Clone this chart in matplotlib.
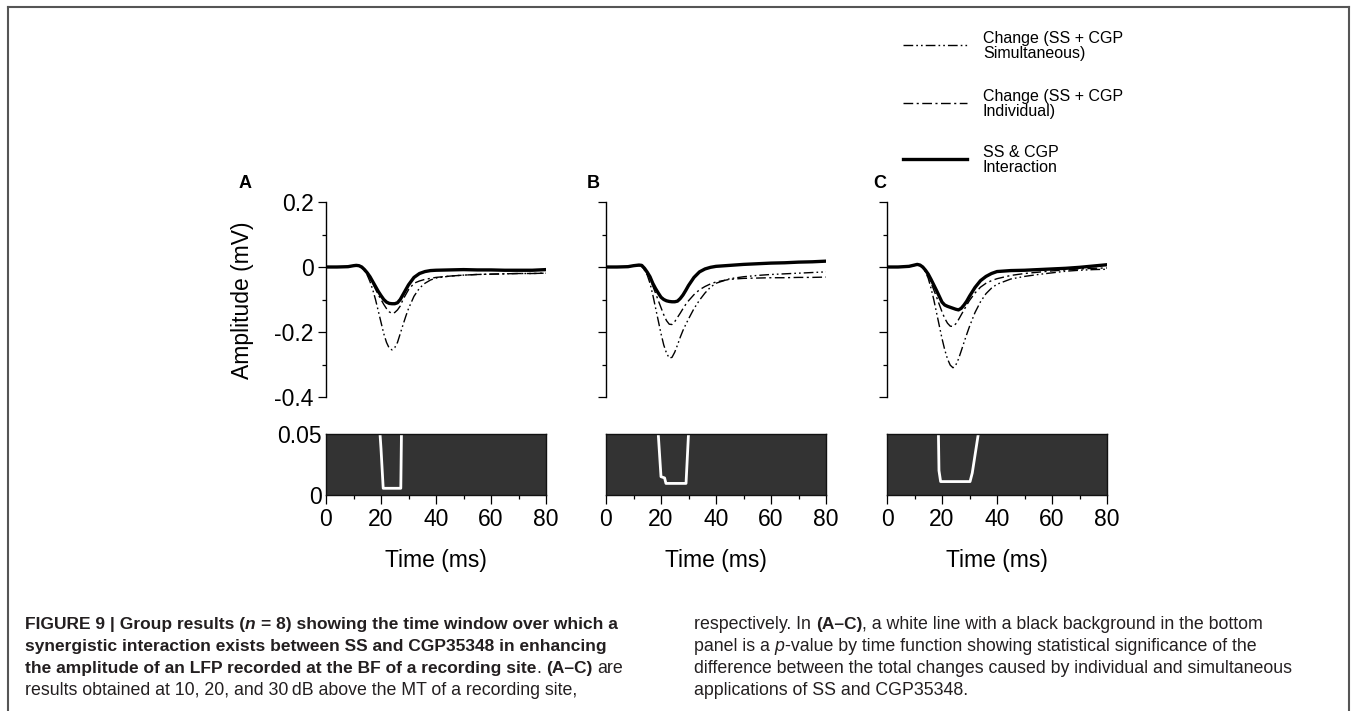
import matplotlib
matplotlib.use("Agg")
import matplotlib.pyplot as plt
from matplotlib.lines import Line2D
from matplotlib.ticker import MultipleLocator, FixedLocator

plt.rcParams['font.family'] = ['Liberation Sans', 'DejaVu Sans']
plt.rcParams['axes.unicode_minus'] = False

# ---------------- data ----------------
time_ms = [0, 4, 8, 10, 11, 12, 13, 14, 15, 16, 17, 18, 19, 20, 21, 22, 23, 24, 25, 26,
           27, 28, 29, 30, 32, 34, 36, 38, 40, 45, 50, 55, 60, 65, 70, 75, 80]

A_interaction = [0, 0, 0.001, 0.004, 0.005, 0.004, 0.0, -0.008, -0.018, -0.03, -0.045, -0.06,
                 -0.075, -0.088, -0.1, -0.108, -0.112, -0.113, -0.113, -0.11, -0.1, -0.085,
                 -0.07, -0.055, -0.032, -0.02, -0.014, -0.011, -0.01, -0.009, -0.008, -0.009,
                 -0.009, -0.01, -0.01, -0.01, -0.008]
A_individual = [0, 0, 0.001, 0.003, 0.004, 0.002, -0.002, -0.01, -0.02, -0.035, -0.05, -0.068,
                -0.085, -0.1, -0.115, -0.128, -0.138, -0.143, -0.14, -0.132, -0.12, -0.1,
                -0.085, -0.07, -0.05, -0.043, -0.038, -0.035, -0.032, -0.028, -0.025, -0.023,
                -0.022, -0.021, -0.02, -0.02, -0.019]
A_simultaneous = [0, 0, 0.001, 0.003, 0.004, 0.002, -0.003, -0.012, -0.025, -0.045, -0.07, -0.1,
                  -0.135, -0.17, -0.205, -0.232, -0.25, -0.255, -0.248, -0.232, -0.205, -0.178,
                  -0.152, -0.128, -0.09, -0.065, -0.05, -0.04, -0.034, -0.028, -0.025, -0.023,
                  -0.022, -0.021, -0.02, -0.02, -0.019]

B_interaction = [0, 0, 0.001, 0.004, 0.005, 0.006, 0.005, -0.004, -0.016, -0.03, -0.05, -0.066,
                 -0.08, -0.093, -0.1, -0.104, -0.106, -0.107, -0.107, -0.105, -0.097, -0.086,
                 -0.072, -0.057, -0.032, -0.015, -0.006, -0.001, 0.002, 0.005, 0.008, 0.01,
                 0.012, 0.013, 0.015, 0.016, 0.018]
B_individual = [0, 0, 0.001, 0.003, 0.004, 0.004, 0.001, -0.008, -0.02, -0.037, -0.058, -0.08,
                -0.103, -0.125, -0.147, -0.165, -0.176, -0.177, -0.168, -0.155, -0.142, -0.128,
                -0.115, -0.104, -0.085, -0.07, -0.06, -0.052, -0.046, -0.038, -0.035, -0.034,
                -0.033, -0.033, -0.032, -0.032, -0.031]
B_simultaneous = [0, 0, 0.001, 0.003, 0.004, 0.004, 0.001, -0.01, -0.025, -0.05, -0.085, -0.125,
                  -0.165, -0.205, -0.24, -0.265, -0.28, -0.278, -0.262, -0.24, -0.216, -0.195,
                  -0.177, -0.16, -0.128, -0.102, -0.08, -0.062, -0.05, -0.036, -0.03, -0.026,
                  -0.023, -0.021, -0.019, -0.017, -0.015]

C_interaction = [0, 0, 0.002, 0.006, 0.008, 0.006, 0.0, -0.01, -0.022, -0.038, -0.055, -0.072,
                 -0.09, -0.108, -0.117, -0.121, -0.124, -0.127, -0.13, -0.132, -0.127, -0.117,
                 -0.105, -0.09, -0.063, -0.042, -0.029, -0.02, -0.014, -0.011, -0.01, -0.008,
                 -0.006, -0.004, -0.001, 0.003, 0.007]
C_individual = [0, 0, 0.002, 0.005, 0.006, 0.004, -0.002, -0.012, -0.028, -0.048, -0.07, -0.092,
                -0.115, -0.138, -0.158, -0.173, -0.182, -0.183, -0.175, -0.162, -0.147, -0.132,
                -0.117, -0.103, -0.08, -0.062, -0.05, -0.042, -0.036, -0.026, -0.02, -0.016,
                -0.012, -0.009, -0.006, -0.004, -0.003]
C_simultaneous = [0, 0, 0.002, 0.005, 0.006, 0.004, -0.003, -0.015, -0.035, -0.065, -0.1, -0.14,
                  -0.18, -0.22, -0.255, -0.283, -0.302, -0.31, -0.302, -0.283, -0.258, -0.232,
                  -0.207, -0.183, -0.14, -0.107, -0.082, -0.065, -0.053, -0.037, -0.029, -0.023,
                  -0.018, -0.013, -0.01, -0.008, -0.007]

# p-value by time (values above 0.05 fall outside the panel)
A_p_time = [0, 19.5, 20.0, 20.8, 27.2, 27.6, 80]
A_p_value = [0.5, 0.055, 0.038, 0.0055, 0.0055, 0.08, 0.5]
B_p_time = [0, 19.0, 20.0, 21.3, 21.8, 29.1, 29.4, 30.0, 80]
B_p_value = [0.5, 0.05, 0.015, 0.014, 0.0095, 0.0095, 0.023, 0.05, 0.5]
C_p_time = [0, 18.7, 18.9, 19.5, 30.2, 31.0, 33.2, 80]
C_p_value = [0.5, 0.05, 0.02, 0.011, 0.011, 0.018, 0.05, 0.5]

panel_letters = ['A', 'B', 'C']
legend_labels = ['Change (SS + CGP\nSimultaneous)', 'Change (SS + CGP\nIndividual)',
                 'SS & CGP\nInteraction']
amp_ticks = [-0.4, -0.2, 0, 0.2]
amp_ticklabels = ['-0.4', '-0.2', '0', '0.2']
time_ticks = [0, 20, 40, 60, 80]
p_ticks = [0, 0.05]
p_ticklabels = ['0', '0.05']

# ---------------- styles ----------------
W, H = 1356, 711
style_sim = dict(color='black', lw=1.0, linestyle=(0, (7, 2.2, 1.2, 2.2, 1.2, 2.2)))
style_ind = dict(color='black', lw=1.0, linestyle=(0, (7, 2.5, 1.5, 2.5)))
style_int = dict(color='black', lw=2.4, linestyle='-')
TICK_FS = 16.5
LABEL_FS = 16.5

fig = plt.figure(figsize=(W / 100, H / 100), dpi=100)
fig.patch.set_facecolor('white')


def fx(px):
    return px / W


def fy(py):
    return 1 - py / H


panels = [
    (A_interaction, A_individual, A_simultaneous, A_p_time, A_p_value),
    (B_interaction, B_individual, B_simultaneous, B_p_time, B_p_value),
    (C_interaction, C_individual, C_simultaneous, C_p_time, C_p_value),
]
lefts = [326, 606, 887]
ax_w = 220

for i, (inter, indiv, simul, pt, pv) in enumerate(panels):
    left = lefts[i]
    ax = fig.add_axes([fx(left), fy(397), ax_w / W, (397 - 202) / H])
    ax.plot(time_ms, simul, **style_sim)
    ax.plot(time_ms, indiv, **style_ind)
    ax.plot(time_ms, inter, **style_int)
    ax.set_xlim(0, 80)
    ax.set_ylim(-0.4, 0.2)
    for s in ['top', 'right', 'bottom']:
        ax.spines[s].set_visible(False)
    ax.spines['left'].set_linewidth(1.0)
    ax.set_xticks([])
    ax.yaxis.set_major_locator(FixedLocator(amp_ticks))
    ax.yaxis.set_minor_locator(FixedLocator([-0.3, -0.1, 0.1]))
    ax.tick_params(axis='y', which='major', length=6, width=0.9, pad=3, labelsize=TICK_FS)
    ax.tick_params(axis='y', which='minor', length=3, width=0.9)
    if i == 0:
        ax.set_yticklabels(amp_ticklabels)
    else:
        ax.set_yticklabels([])
    ax.patch.set_alpha(0)

    bx = fig.add_axes([fx(left), fy(495), ax_w / W, (495 - 434) / H])
    bx.set_facecolor('#333333')
    bx.plot(pt, pv, color='white', lw=2.0, clip_on=True)
    bx.set_xlim(0, 80)
    bx.set_ylim(0, 0.05)
    for s in bx.spines.values():
        s.set_color('#111111')
        s.set_linewidth(1.0)
    bx.xaxis.set_major_locator(FixedLocator(time_ticks))
    bx.xaxis.set_minor_locator(MultipleLocator(10))
    bx.tick_params(axis='x', which='major', length=6.5, width=0.9, pad=3, labelsize=TICK_FS)
    bx.tick_params(axis='x', which='minor', length=3, width=0.9)
    bx.set_yticks(p_ticks)
    bx.tick_params(axis='y', length=0, pad=3, labelsize=TICK_FS)
    if i == 0:
        bx.set_yticklabels(p_ticklabels)
    else:
        bx.set_yticklabels([])

    fig.text(fx(left + ax_w / 2), fy(560), 'Time (ms)', fontsize=LABEL_FS, ha='center', va='center')

# panel letters
for letter, (px, py) in zip(panel_letters, [(245, 183), (593, 183), (880, 183)]):
    fig.text(fx(px), fy(py), letter, fontsize=13, fontweight='bold', ha='center', va='center')

fig.text(fx(242), fy(300), 'Amplitude (mV)', fontsize=LABEL_FS, rotation=90, ha='center', va='center')

# legend
leg_styles = [style_sim, style_ind, style_int]
leg_y = [45, 103, 159]
for lab, st, y in zip(legend_labels, leg_styles, leg_y):
    fig.add_artist(Line2D([fx(903), fx(967)], [fy(y), fy(y)], transform=fig.transFigure, **st))
    fig.text(fx(983), fy(y + 1), lab, fontsize=11.5, ha='left', va='center', linespacing=0.92)

# frame
frame_kw = dict(transform=fig.transFigure, color='#555555', lw=1.5)
fig.add_artist(Line2D([fx(8), fx(8)], [0, fy(7)], **frame_kw))
fig.add_artist(Line2D([fx(1349), fx(1349)], [0, fy(7)], **frame_kw))
fig.add_artist(Line2D([fx(8), fx(1349)], [fy(7), fy(7)], **frame_kw))

# caption with mixed styles
renderer = fig.canvas.get_renderer()
cap_color = '#231f20'
BOLD_FS = 12.5
REG_FS = 12.8


def text_width(s, fs, **kw):
    t = fig.text(0, 0, s, fontsize=fs, **kw)
    w = t.get_window_extent(renderer).width
    t.remove()
    return w


def draw_runs(x, y, runs):
    for s, kw in runs:
        fs = BOLD_FS if kw.get('fontweight') == 'bold' else REG_FS
        sp = text_width('x x', fs, **kw) - text_width('xx', fs, **kw)
        lead = len(s) - len(s.lstrip(' '))
        trail = len(s) - len(s.rstrip(' '))
        core = s.strip(' ')
        x += lead * sp
        if core:
            t = fig.text(fx(x), fy(y), core, fontsize=fs, color=cap_color,
                         va='baseline', ha='left', **kw)
            x += t.get_window_extent(renderer).width
        x += trail * sp


B_ = dict(fontweight='bold')
BI = dict(fontweight='bold', fontstyle='italic')
R_ = dict()
I_ = dict(fontstyle='italic')

base = [629, 651, 673, 695]
draw_runs(25, base[0], [('FIGURE 9 | Group results (', B_), ('n', BI),
                        (' = 8) showing the time window over which a', B_)])
draw_runs(25, base[1], [('synergistic interaction exists between SS and CGP35348 in enhancing', B_)])
draw_runs(25, base[2], [('the amplitude of an LFP recorded at the BF of a recording site', B_),
                        ('. ', R_), ('(A\u2013C)', B_), (' are', R_)])
draw_runs(25, base[3], [('results obtained at 10, 20, and 30\u2009dB above the MT of a recording site,', R_)])

RX = 694
draw_runs(RX, base[0], [('respectively. In ', R_), ('(A\u2013C)', B_),
                        (', a white line with a black background in the bottom', R_)])
draw_runs(RX, base[1], [('panel is a ', R_), ('p', I_),
                        ('-value by time function showing statistical significance of the', R_)])
draw_runs(RX, base[2], [('difference between the total changes caused by individual and simultaneous', R_)])
draw_runs(RX, base[3], [('applications of SS and CGP35348.', R_)])

fig.savefig('out.png', dpi=100, facecolor='white')
